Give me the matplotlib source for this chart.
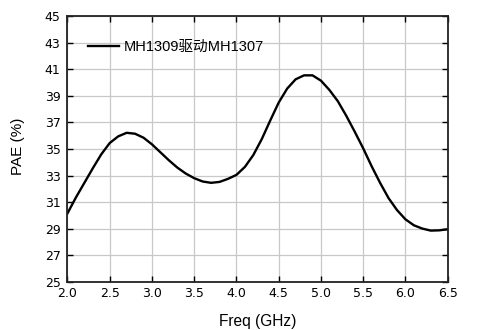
import matplotlib
matplotlib.use("Agg")
import matplotlib.pyplot as plt

plt.rcParams['font.family'] = ['Liberation Sans', 'Noto Sans CJK SC', 'DejaVu Sans']

freq = [2.0, 2.1, 2.2, 2.3, 2.4, 2.5, 2.6, 2.7, 2.8, 2.9,
        3.0, 3.1, 3.2, 3.3, 3.4, 3.5, 3.6, 3.7, 3.8, 3.9,
        4.0, 4.1, 4.2, 4.3, 4.4, 4.5, 4.6, 4.7, 4.8, 4.9,
        5.0, 5.1, 5.2, 5.3, 5.4, 5.5, 5.6, 5.7, 5.8, 5.9,
        6.0, 6.1, 6.2, 6.3, 6.4, 6.5]
pae = [30.15, 31.35, 32.45, 33.55, 34.6, 35.45, 35.95, 36.22, 36.15, 35.85,
       35.35, 34.75, 34.15, 33.6, 33.15, 32.8, 32.55, 32.45, 32.52, 32.75,
       33.05, 33.65, 34.55, 35.75, 37.15, 38.5, 39.55, 40.25, 40.55, 40.55,
       40.15, 39.45, 38.6, 37.5, 36.3, 35.05, 33.7, 32.45, 31.3, 30.4,
       29.7, 29.25, 29.0, 28.85, 28.87, 28.95]
series_label = "MH1309驱动MH1307"
xticks = [2.0, 2.5, 3.0, 3.5, 4.0, 4.5, 5.0, 5.5, 6.0, 6.5]
yticks = [25, 27, 29, 31, 33, 35, 37, 39, 41, 43, 45]

fig = plt.figure(figsize=(4.89, 3.30), dpi=100)
ax = fig.add_axes([0.138, 0.1464, 0.7775, 0.8042])
ax.plot(freq, pae, color='black', lw=1.7, label=series_label)
ax.set_xlim(2.0, 6.5)
ax.set_ylim(25, 45)
ax.set_xticks(xticks)
ax.set_xticklabels([f"{v:.1f}" for v in xticks])
ax.set_yticks(yticks)
ax.grid(True, color='#c8c8c8', lw=0.9)
ax.tick_params(direction='in', length=4, width=1, top=True, right=True, colors='black')
ax.tick_params(axis='x', pad=3.5)
ax.tick_params(axis='y', pad=5)
for lab in ax.get_xticklabels() + ax.get_yticklabels():
    lab.set_fontfamily('DejaVu Sans')
    lab.set_fontsize(9)
for s in ax.spines.values():
    s.set_linewidth(1.3)
    s.set_color('#222222')
fig.text(257.5 / 489, 1 - 325.7 / 330, "Freq (GHz)", fontsize=11.2,
         ha='center', va='baseline')
fig.text(21.7 / 489, 1 - 146.5 / 330, "PAE (%)", fontsize=11,
         ha='center', va='baseline', rotation=90, rotation_mode='anchor')
ax.legend(loc='upper left', bbox_to_anchor=(0.02, 0.96), frameon=False,
          fontsize=10.5, handlelength=2.1, handletextpad=0.35)
fig.savefig("out.png", dpi=100)
